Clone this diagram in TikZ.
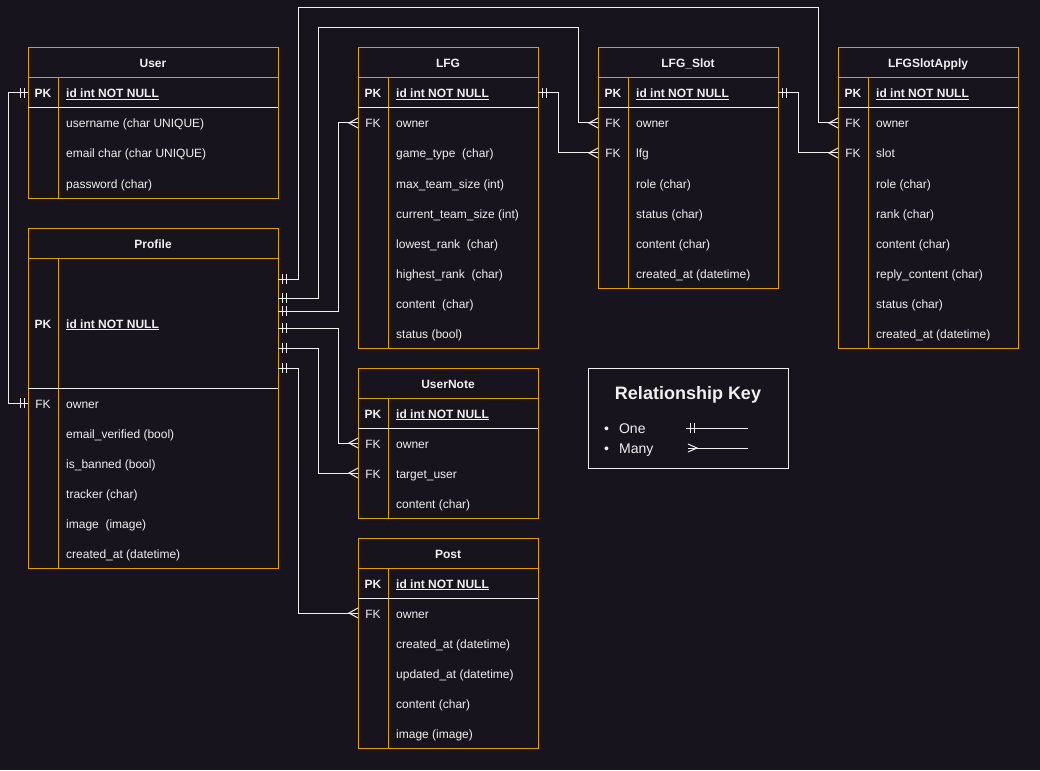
\documentclass[tikz,border=0pt]{standalone}
\usepackage{fontspec}
\setmainfont{Liberation Sans}
\definecolor{bg}{HTML}{18141D}
\definecolor{orng}{HTML}{E09E00}
\definecolor{txt}{HTML}{F0F0F0}
\tikzset{
  tblline/.style={draw=orng, line width=1pt},
  pkline/.style={draw=txt, line width=1pt},
  conn/.style={draw=txt, line width=1pt},
  basetext/.style={text=txt, inner sep=0pt, text height=11pt, text depth=1pt, font=\fontsize{12}{14}\selectfont},
  titletext/.style={basetext, font=\fontsize{12}{14}\selectfont\bfseries},
  pktext/.style={basetext, font=\fontsize{12}{14}\selectfont\bfseries},
  keytext/.style={basetext},
  pkfield/.style={basetext, anchor=west, font=\fontsize{12}{14}\selectfont\bfseries},
  fieldtext/.style={basetext, anchor=west},
  keyitem/.style={text=txt, inner sep=0pt, anchor=west, font=\fontsize{14}{16}\selectfont, text height=12pt, text depth=1pt},
  onemark/.pic={\draw[conn] (4,-5) -- (4,5) (8,-5) -- (8,5);},
  manymark/.pic={\draw[conn] (0,-5) -- (-9,0) -- (0,5);},
}
% name, x, y, w, h, title, pk height, rows
\newcommand\ertable[8]{%
  \draw[tblline] (#2,#3) rectangle ++(#4,#5);
  \draw[tblline] (#2,#3+30) -- ++(#4,0);
  \draw[tblline] (#2+30,#3+30) -- (#2+30,#3+#5);
  \draw[pkline] (#2,#3+30+#7) -- ++(#4,0);
  \node[titletext] (#1) at (#2+#4/2,#3+15) {#6};
  \node[pktext] (#1-pk) at (#2+15,#3+30+#7/2) {PK};
  \node[pkfield] (#1-id) at (#2+38,#3+30+#7/2) {\underline{id int NOT NULL}};
  \coordinate (#1-pkL) at (#2,#3+30+#7/2);
  \coordinate (#1-pkR) at (#2+#4,#3+30+#7/2);
  \foreach \kk/\ff/\nm [count=\ii] in {#8}{
    \pgfmathsetmacro\ry{#3+30+#7+30*\ii-15}
    \node[keytext] (#1-\nm-k) at (#2+15,\ry) {\kk};
    \node[fieldtext] (#1-\nm) at (#2+38,\ry) {\ff};
    \coordinate (#1-\nm-L) at (#2,\ry);
    \coordinate (#1-\nm-R) at (#2+#4,\ry);
  }
}
\begin{document}
\begin{tikzpicture}[x=1pt,y=-1pt]
\fill[bg] (0,0) rectangle (1040,770);
\useasboundingbox (0,0) rectangle (1040,770);

\ertable{user}{28}{48}{250}{150}{User}{30}{/username (char UNIQUE)/un, /email char (char UNIQUE)/em, /password (char)/pw}
\ertable{prof}{28}{228}{250}{340}{Profile}{130}{FK/owner/owner, /email\_verified (bool)/ev, /is\_banned (bool)/ib, /tracker (char)/tr, /image~ (image)/im, /created\_at (datetime)/ca}
\ertable{lfg}{358}{48}{180}{300}{LFG}{30}{FK/owner/owner, /game\_type~ (char)/gt, /max\_team\_size (int)/mx, /current\_team\_size (int)/ct, /lowest\_rank~ (char)/lr, /highest\_rank~ (char)/hr, /content~ (char)/co, /status (bool)/st}
\ertable{slot}{598}{48}{180}{240}{LFG\_Slot}{30}{FK/owner/owner, FK/lfg/lfg, /role (char)/ro, /status (char)/st, /content (char)/co, /created\_at (datetime)/ca}
\ertable{lsa}{838}{48}{180}{300}{LFGSlotApply}{30}{FK/owner/owner, FK/slot/slot, /role (char)/ro, /rank (char)/ra, /content (char)/co, /reply\_content (char)/rc, /status (char)/st, /created\_at (datetime)/ca}
\ertable{note}{358}{368}{180}{150}{UserNote}{30}{FK/owner/owner, FK/target\_user/tu, /content (char)/co}
\ertable{post}{358}{538}{180}{210}{Post}{30}{FK/owner/owner, /created\_at (datetime)/ca, /updated\_at (datetime)/ua, /content (char)/co, /image (image)/im}

% Profile connection points
\coordinate (pc1) at (278,279);
\coordinate (pc2) at (278,298);
\coordinate (pc3) at (278,311);
\coordinate (pc4) at (278,328);
\coordinate (pc5) at (278,348);
\coordinate (pc6) at (278,368);

% User -> Profile (one to one)
\draw[conn] (user-pkL) -- (8,93) -- (8,403) -- (prof-owner-L);
\pic[rotate=180] at (user-pkL) {onemark};
\pic[rotate=180] at (prof-owner-L) {onemark};

% Profile -> LFGSlotApply owner
\draw[conn] (pc1) -- (298,279) -- (298,8) -- (818,8) -- (818,123) -- (lsa-owner-L);
\pic at (pc1) {onemark};
\pic at (lsa-owner-L) {manymark};
% Profile -> LFG_Slot owner
\draw[conn] (pc2) -- (318,298) -- (318,28) -- (578,28) -- (578,123) -- (slot-owner-L);
\pic at (pc2) {onemark};
\pic at (slot-owner-L) {manymark};
% Profile -> LFG owner
\draw[conn] (pc3) -- (338,311) -- (338,123) -- (lfg-owner-L);
\pic at (pc3) {onemark};
\pic at (lfg-owner-L) {manymark};
% Profile -> UserNote owner
\draw[conn] (pc4) -- (338,328) -- (338,443) -- (note-owner-L);
\pic at (pc4) {onemark};
\pic at (note-owner-L) {manymark};
% Profile -> UserNote target_user
\draw[conn] (pc5) -- (318,348) -- (318,473) -- (note-tu-L);
\pic at (pc5) {onemark};
\pic at (note-tu-L) {manymark};
% Profile -> Post owner
\draw[conn] (pc6) -- (298,368) -- (298,613) -- (post-owner-L);
\pic at (pc6) {onemark};
\pic at (post-owner-L) {manymark};
% LFG -> LFG_Slot lfg
\draw[conn] (lfg-pkR) -- (558,93) -- (558,153) -- (slot-lfg-L);
\pic at (lfg-pkR) {onemark};
\pic at (slot-lfg-L) {manymark};
% LFG_Slot -> LFGSlotApply slot
\draw[conn] (slot-pkR) -- (798,93) -- (798,153) -- (lsa-slot-L);
\pic at (slot-pkR) {onemark};
\pic at (lsa-slot-L) {manymark};

% Relationship key
\node[draw=txt, line width=1pt, minimum width=200pt, minimum height=100pt, inner sep=0pt, anchor=north west] (key) at (588,368) {};
\node[text=txt, inner sep=0pt, font=\fontsize{18}{22}\selectfont\bfseries] (keytitle) at (688,395) {Relationship Key};
\node[keyitem] (kone) at (604,428) {\textbullet\hspace{10pt}One};
\node[keyitem] (kmany) at (604,448) {\textbullet\hspace{10pt}Many};
\coordinate (k1a) at (686,428);
\coordinate (k1b) at (748,428);
\coordinate (k2a) at (688,448);
\coordinate (k2b) at (748,448);
\draw[conn] (k1a) -- (k1b);
\pic at (k1a) {onemark};
\draw[conn] (k2a) -- (k2b);
\draw[conn] (688,444) -- (697,448) -- (688,452);
\end{tikzpicture}
\end{document}
